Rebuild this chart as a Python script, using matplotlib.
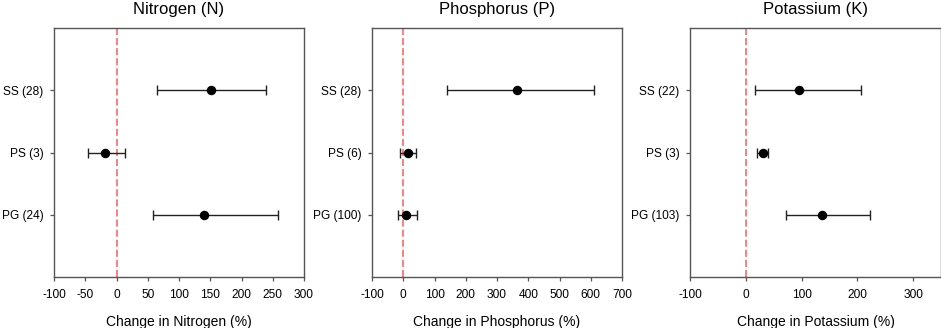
import matplotlib
matplotlib.use("Agg")
import matplotlib.pyplot as plt

plt.rcParams['font.family'] = ['Liberation Sans', 'DejaVu Sans']

titles = ["Nitrogen (N)", "Phosphorus (P)", "Potassium (K)"]
xlabels = ["Change in Nitrogen (%)", "Change in Phosphorus (%)", "Change in Potassium (%)"]
labels_n = ["SS (28)", "PS (3)", "PG (24)"]
labels_p = ["SS (28)", "PS (6)", "PG (100)"]
labels_k = ["SS (22)", "PS (3)", "PG (103)"]

mean_n = [151, -18, 140]
low_n = [65, -45, 59]
high_n = [239, 13, 259]

mean_p = [363, 14, 10]
low_p = [139, -9, -16]
high_p = [609, 40, 43]

mean_k = [95, 31, 136]
low_k = [17, 20, 73]
high_k = [207, 40, 223]

xlims = [(-100, 300), (-100, 700), (-100, 350)]
xticks = [list(range(-100, 301, 50)), list(range(-100, 701, 100)), [-100, 0, 100, 200, 300]]

W, H = 941, 328
fig = plt.figure(figsize=(W / 100, H / 100), dpi=100)

axes_px = [(54, 304), (372, 622), (690, 941)]
top_px, bot_px = 28, 277

data = [(labels_n, mean_n, low_n, high_n),
        (labels_p, mean_p, low_p, high_p),
        (labels_k, mean_k, low_k, high_k)]

ypos = [3, 2, 1]
spine_c = "#555555"
for i, (l, r) in enumerate(axes_px):
    ax = fig.add_axes([l / W, 1 - bot_px / H, (r - l) / W, (bot_px - top_px) / H])
    labels, mean, low, high = data[i]
    err = [[m - lo for m, lo in zip(mean, low)], [hi - m for m, hi in zip(mean, high)]]
    ax.axvline(0, color="#ff5a5a", linestyle=(0, (4.6, 2.0)), linewidth=1.1, zorder=1)
    ax.errorbar(mean, ypos, xerr=err, fmt="o", color="black", ecolor="#222222",
                markersize=5.8, elinewidth=1.0, capsize=3.6, capthick=1.0, zorder=3)
    ax.set_xlim(*xlims[i])
    ax.set_ylim(0, 4)
    ax.set_xticks(xticks[i])
    ax.set_xticklabels([str(t) for t in xticks[i]])
    ax.set_yticks(ypos)
    ax.set_yticklabels(labels)
    ax.tick_params(axis="both", direction="out", length=3, width=0.9, color=spine_c,
                   labelsize=8.6)
    ax.tick_params(axis="x", pad=6)
    ax.tick_params(axis="y", pad=4.5)
    for s in ax.spines.values():
        s.set_color(spine_c)
        s.set_linewidth(1.0)
    ax.set_title(titles[i], fontsize=12, pad=10)
    ax.set_xlabel(xlabels[i], fontsize=10, labelpad=10)

fig.savefig("out.png", dpi=100)
